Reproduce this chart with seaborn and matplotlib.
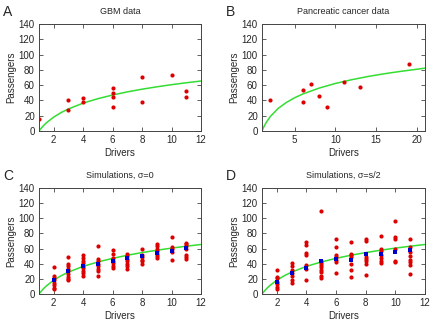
import numpy as np
import pandas as pd
import matplotlib
matplotlib.use("Agg")
import matplotlib.pyplot as plt
import seaborn as sns

# ---------------- data ----------------
# Panel A: GBM data
gbm_drivers = [1, 3, 3, 4, 4, 6, 6, 6, 6, 8, 8, 10, 11, 11]
gbm_passengers = [16, 41, 28, 43, 38, 56, 50, 44, 32, 71, 38, 73, 52, 44]

# Panel B: pancreatic cancer data
panc_drivers = [2, 6, 6, 7, 8, 9, 11, 13, 19]
panc_passengers = [41, 54, 38, 62, 46, 31, 64, 57, 88]

# Panel C: simulations, sigma = 0 (red: runs, blue: means)
simC_drivers = ([2] * 8 + [3] * 9 + [4] * 9 + [5] * 8 + [6] * 7 + [7] * 7 +
                [8] * 6 + [9] * 7 + [10] * 5 + [11] * 7)
simC_passengers = [36, 24, 21, 18, 15, 12, 8, 6,
                   49, 39, 37, 33, 30, 27, 23, 20, 18,
                   51, 48, 44, 41, 37, 35, 31, 28, 24,
                   64, 46, 43, 40, 37, 33, 30, 24,
                   58, 53, 48, 44, 41, 37, 35,
                   53, 50, 46, 44, 40, 37, 33,
                   59, 52, 49, 45, 43, 40,
                   66, 64, 60, 57, 53, 50, 47,
                   75, 62, 59, 56, 45,
                   68, 66, 63, 60, 52, 49, 46]
simC_mean_x = [2, 3, 4, 5, 6, 7, 8, 9, 10, 11]
simC_mean_y = [19, 30, 37, 40, 44, 47, 50, 54, 57, 61]

# Panel D: simulations, sigma = s/2
simD_drivers = ([2] * 7 + [3] * 7 + [4] * 7 + [5] * 9 + [6] * 7 + [7] * 7 +
                [8] * 7 + [9] * 7 + [10] * 6 + [11] * 8)
simD_passengers = [32, 23, 21, 16, 13, 9, 7,
                   41, 37, 32, 28, 24, 19, 14,
                   69, 65, 54, 51, 38, 33, 19,
                   109, 44, 41, 38, 36, 32, 29, 24, 21,
                   72, 62, 52, 49, 45, 42, 28,
                   69, 53, 51, 49, 39, 32, 22,
                   73, 70, 49, 46, 43, 40, 25,
                   76, 60, 57, 52, 48, 44, 41,
                   97, 75, 73, 59, 44, 42,
                   73, 62, 56, 50, 45, 42, 38, 26]
simD_mean_x = [2, 3, 4, 5, 6, 7, 8, 9, 10, 11]
simD_mean_y = [16, 28, 34, 43, 46, 45, 53, 53, 55, 58]

# Model curves
curve_x = [1, 1.1, 1.25, 1.5, 2, 2.5, 3, 4, 5, 6, 7, 8, 9, 10, 11, 12]
curve_y = [0, 2.5, 5.9, 10.7, 18.2, 24.1, 28.9, 36.5, 42.3, 47.1, 51.2,
           54.7, 57.8, 60.6, 63.1, 65.4]
curveB_x = [1, 1.1, 1.2, 1.5, 2, 3, 4, 5, 6, 8, 10, 12, 14, 16, 18, 21]
curveB_y = [0, 2.6, 4.9, 10.9, 18.7, 29.7, 37.4, 43.5, 48.4, 56.1, 62.2,
            67.1, 71.3, 74.9, 78.0, 82.2]

titles = ["GBM data", "Pancreatic cancer data", "Simulations, σ=0",
          "Simulations, σ=s/2"]
letters = ["A", "B", "C", "D"]
y_ticks = [0, 20, 40, 60, 80, 100, 120, 140]

# ---------------- style ----------------
sns.set_style("ticks")
plt.rcParams["font.family"] = ["Liberation Sans", "DejaVu Sans"]

RED = "#dd0000"
BLUE = "#0000cc"
GREEN = "#33dd33"
FRAME = "#444444"

fig = plt.figure(figsize=(4.32, 3.23), dpi=100)
W, H = 432.0, 323.0
boxes = [(39, 24, 201, 131), (262, 24, 425, 131),
         (39, 188, 201, 294), (262, 188, 425, 294)]
axes = []
for (l, t, r, b) in boxes:
    axes.append(fig.add_axes([l / W, 1 - b / H, (r - l) / W, (b - t) / H]))

def draw_curve(ax, cx, cy):
    dfc = pd.DataFrame({"x": cx, "y": cy})
    sns.lineplot(data=dfc, x="x", y="y", ax=ax, color=GREEN, lw=1.1,
                 sort=False, zorder=2)

def draw_points(ax, xs, ys, color, marker, size):
    d = pd.DataFrame({"x": xs, "y": ys})
    sns.scatterplot(data=d, x="x", y="y", ax=ax, color=color, marker=marker,
                    s=size, linewidth=0, zorder=3)

# A
draw_curve(axes[0], curve_x, curve_y)
draw_points(axes[0], gbm_drivers, gbm_passengers, RED, "o", 9)
# B
draw_curve(axes[1], curveB_x, curveB_y)
draw_points(axes[1], panc_drivers, panc_passengers, RED, "o", 9)
# C
draw_curve(axes[2], curve_x, curve_y)
draw_points(axes[2], simC_drivers, simC_passengers, RED, "o", 9)
draw_points(axes[2], simC_mean_x, simC_mean_y, BLUE, "s", 7)
# D
draw_curve(axes[3], curve_x, curve_y)
draw_points(axes[3], simD_drivers, simD_passengers, RED, "o", 9)
draw_points(axes[3], simD_mean_x, simD_mean_y, BLUE, "s", 7)

for i, ax in enumerate(axes):
    if i == 1:
        ax.set_xlim(1, 21)
        ax.set_xticks([5, 10, 15, 20])
    else:
        ax.set_xlim(1, 12)
        ax.set_xticks([2, 4, 6, 8, 10, 12])
    ax.set_ylim(0, 140)
    ax.set_yticks(y_ticks)
    ax.tick_params(direction="in", top=True, right=True, length=3,
                   width=0.6, color=FRAME, labelsize=7, pad=3)
    for sp in ax.spines.values():
        sp.set_visible(True)
        sp.set_color(FRAME)
        sp.set_linewidth(0.7)
    ax.set_xlabel("Drivers", fontsize=7, labelpad=2)
    ax.set_ylabel("Passengers", fontsize=7, labelpad=2)
    ax.set_title(titles[i], fontsize=6.5, pad=7)
    l, t, r, b = boxes[i]
    fig.text((l - 36) / W, 1 - (t - 12) / H, letters[i], fontsize=10,
             ha="left", va="center")

fig.savefig("out.png", dpi=100)
